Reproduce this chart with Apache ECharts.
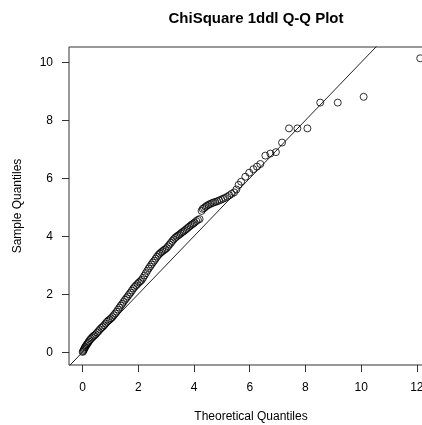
<!DOCTYPE html>
<html>
<head>
<meta charset="utf-8">
<script src="https://cdn.jsdelivr.net/npm/echarts@6/dist/echarts.min.js"></script>
<style>
  html, body { margin: 0; padding: 0; background: #fff; overflow: hidden; }
  #chart { width: 422px; height: 425px; }
</style>
</head>
<body>
<div id="chart"></div>
<script>
// Q-Q plot of a chi-square (1 df) sample against theoretical quantiles
const titleText = 'ChiSquare 1ddl Q-Q Plot';
const xAxisTitle = 'Theoretical Quantiles';
const yAxisTitle = 'Sample Quantiles';

const xTicks = [0, 2, 4, 6, 8, 10, 12];
const yTicks = [0, 2, 4, 6, 8, 10];

// theoretical quantiles
const theoretical = [
  0.00, 0.02, 0.04, 0.06, 0.08, 0.10, 0.13, 0.16, 0.19, 0.22,
  0.26, 0.30, 0.34, 0.38, 0.42, 0.47, 0.52, 0.57, 0.62, 0.67,
  0.72, 0.77, 0.82, 0.87, 0.92, 0.97, 1.02, 1.07, 1.12, 1.17,
  1.22, 1.27, 1.32, 1.37, 1.42, 1.47, 1.52, 1.57, 1.62, 1.67,
  1.72, 1.77, 1.82, 1.87, 1.92, 1.97, 2.02, 2.07, 2.12, 2.17,
  2.22, 2.27, 2.32, 2.37, 2.42, 2.47, 2.52, 2.57, 2.62, 2.67,
  2.72, 2.77, 2.82, 2.87, 2.92, 2.97, 3.02, 3.07, 3.12, 3.17,
  3.22, 3.27, 3.32, 3.37, 3.42, 3.47, 3.52, 3.57, 3.62, 3.67,
  3.72, 3.77, 3.82, 3.87, 3.92, 3.97, 4.02, 4.08, 4.14, 4.20,
  4.27, 4.31, 4.36, 4.41, 4.46, 4.52, 4.58, 4.64, 4.70, 4.76,
  4.83, 4.90, 4.97, 5.04, 5.11, 5.19, 5.27, 5.35, 5.44, 5.52,
  5.60, 5.69, 5.84, 5.98, 6.13, 6.26, 6.38, 6.56, 6.74, 6.94,
  7.16, 7.41, 7.71, 8.07, 8.53, 9.16, 10.09, 12.12
];

// sample quantiles
const sample = [
  0.01, 0.04, 0.08, 0.12, 0.16, 0.19, 0.24, 0.28, 0.32, 0.37,
  0.42, 0.47, 0.51, 0.55, 0.58, 0.62, 0.68, 0.73, 0.79, 0.84,
  0.88, 0.93, 0.99, 1.05, 1.09, 1.13, 1.17, 1.22, 1.28, 1.34,
  1.40, 1.47, 1.54, 1.61, 1.67, 1.74, 1.81, 1.87, 1.93, 2.00,
  2.06, 2.13, 2.20, 2.26, 2.31, 2.36, 2.41, 2.45, 2.50, 2.57,
  2.65, 2.73, 2.81, 2.89, 2.96, 3.03, 3.10, 3.16, 3.23, 3.30,
  3.36, 3.41, 3.45, 3.49, 3.53, 3.56, 3.60, 3.66, 3.72, 3.78,
  3.84, 3.90, 3.95, 3.99, 4.03, 4.06, 4.10, 4.14, 4.17, 4.21,
  4.25, 4.29, 4.33, 4.37, 4.41, 4.44, 4.48, 4.53, 4.57, 4.60,
  4.88, 4.95, 4.98, 5.02, 5.06, 5.09, 5.12, 5.15, 5.17, 5.19,
  5.21, 5.24, 5.27, 5.30, 5.33, 5.37, 5.42, 5.47, 5.52, 5.62,
  5.78, 5.89, 6.06, 6.20, 6.32, 6.41, 6.50, 6.79, 6.86, 6.91,
  7.24, 7.73, 7.73, 7.73, 8.62, 8.62, 8.82, 10.15
];

// reference line through the quartiles
const lineSlope = 1.0;
const lineIntercept = 0.01;

const xMin = -0.49, xMax = 12.58;
const yMin = -0.44, yMax = 10.54;

const points = theoretical.map((x, i) => [x, sample[i]]);
const refLine = [
  [xMin, lineIntercept + lineSlope * xMin],
  [xMax, lineIntercept + lineSlope * xMax]
];

const FONT = "'Liberation Sans', Arial, Helvetica, sans-serif";
const INK = '#333';

const chart = echarts.init(document.getElementById('chart'), null, { renderer: 'canvas' });
chart.setOption({
  animation: false,
  backgroundColor: '#fff',
  title: {
    text: titleText,
    left: 251,
    top: 6,
    textAlign: 'center',
    textStyle: { fontFamily: FONT, fontSize: 15, fontWeight: 'bold', color: '#000' }
  },
  grid: {
    left: 69, right: -11, top: 47, bottom: 60,
    outerBoundsMode: 'none',
    containLabel: false,
    show: true, borderColor: INK, borderWidth: 1, backgroundColor: 'transparent'
  },
  xAxis: {
    type: 'value',
    min: xMin, max: xMax,
    name: xAxisTitle,
    nameLocation: 'middle',
    nameGap: 46,
    nameTextStyle: { fontFamily: FONT, fontSize: 12, color: '#000' },
    axisLine: { show: false, onZero: false },
    splitLine: { show: false },
    axisTick: { show: true, length: 7, inside: false, customValues: xTicks, lineStyle: { color: INK, width: 1 } },
    axisLabel: { customValues: xTicks, margin: 17, rotate: 0, fontFamily: FONT, fontSize: 12, color: '#000' }
  },
  yAxis: {
    type: 'value',
    min: yMin, max: yMax,
    name: yAxisTitle,
    nameLocation: 'middle',
    nameGap: 45,
    nameTextStyle: { fontFamily: FONT, fontSize: 12, color: '#000' },
    axisLine: { show: false, onZero: false },
    splitLine: { show: false },
    axisTick: { show: true, length: 7, inside: false, customValues: yTicks, lineStyle: { color: INK, width: 1 } },
    axisLabel: { customValues: yTicks, margin: 16, rotate: 0, fontFamily: FONT, fontSize: 12, color: '#000' }
  },
  series: [
    {
      type: 'line',
      data: refLine,
      symbol: 'none',
      clip: true,
      silent: true,
      lineStyle: { color: '#222', width: 1 },
      z: 1
    },
    {
      type: 'scatter',
      data: points,
      symbol: 'circle',
      symbolSize: 7,
      clip: true,
      itemStyle: { color: 'rgba(0,0,0,0)', borderColor: '#000', borderWidth: 1 },
      z: 2
    }
  ]
});
</script>
</body>
</html>
